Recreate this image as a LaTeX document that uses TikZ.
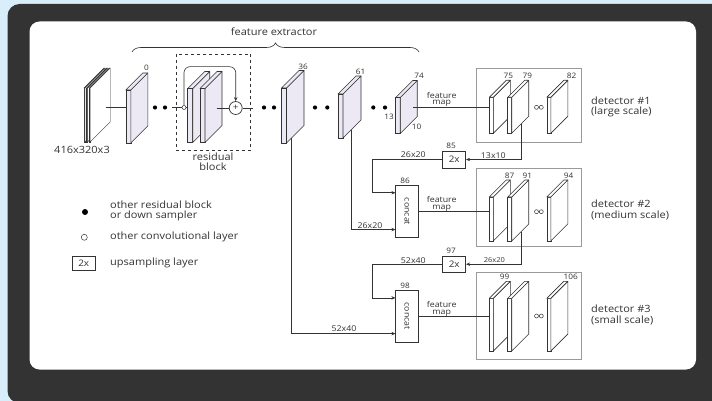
\documentclass[tikz,border=0pt]{standalone}
\usepackage{fontspec}
\setmainfont{Open Sans}[FakeStretch=1.1]
\usetikzlibrary{arrows.meta,decorations.pathreplacing,calc}

\definecolor{pagebg}{HTML}{D9EEFB}
\definecolor{framebg}{HTML}{333333}
\definecolor{slabfill}{HTML}{ECE9F4}
\definecolor{inkgray}{HTML}{333333}
\definecolor{boxgray}{HTML}{9A9A9A}

\tikzset{
  conn/.style={draw=inkgray, line width=0.6pt},
  arr/.style={conn, -{Stealth[length=4pt,width=3.4pt]}},
  front/.style={draw=inkgray, line width=0.6pt, inner sep=0pt, outer sep=0pt},
  face/.style={draw=inkgray, line width=0.6pt, line join=round},
  thinslab/.style={front/.append style={line width=0.4pt}, face/.append style={line width=0.4pt}},
  num/.style={font=\fontsize{7.5}{7.5}\selectfont, text=inkgray, inner sep=0pt},
  dim/.style={font=\fontsize{8}{8}\selectfont, text=inkgray, inner sep=0pt},
  fmap/.style={font=\fontsize{8}{6.8}\selectfont, text=inkgray, align=center, inner sep=0pt},
  txt/.style={font=\fontsize{10}{10.5}\selectfont, text=inkgray, align=left, inner sep=0pt},
  upbox/.style={draw=inkgray, line width=0.7pt, minimum width=23pt, minimum height=17pt,
    inner sep=0pt, font=\fontsize{9}{9}\selectfont, text=inkgray},
  concatbox/.style={draw=inkgray, line width=0.7pt, minimum width=23pt, minimum height=52pt, inner sep=0pt},
  detbox/.style={draw=boxgray, line width=0.9pt, inner sep=0pt},
  dot/.style={circle, fill=black, inner sep=0pt, minimum size=4.2pt},
  odot/.style={circle, draw=inkgray, fill=white, inner sep=0pt, minimum size=4pt, line width=0.5pt},
}

% 3d layer: [fill]{name}{x}{y}{front width}{height}{depth}
\newcommand{\layerslab}[7][white]{%
  \node[front, fill=#1, minimum width=#5pt, minimum height=#6pt] (#2) at (#3,#4) {};
  \filldraw[face, fill=#1] (#2.south east) -- (#2.north east) -- ++(#7,-#7) -- ++(0,#6) -- cycle;
  \filldraw[face, fill=#1] (#2.north west) -- ++(#7,-#7) -- ++(#5,0) -- (#2.north east) -- cycle;
}

\begin{document}
\begin{tikzpicture}[x=1pt,y=-1pt]
\useasboundingbox (0,0) rectangle (712,401);
\fill[pagebg] (0,0) rectangle (712,401);
\fill[framebg, rounded corners=12pt] (7.5,4) rectangle (730,403);
\fill[white, rounded corners=10pt] (29.5,21.5) rectangle (696,369.5);

% feature extractor
\draw[conn, decorate, decoration={brace, amplitude=9pt}] (132,52) -- (419,52);
\node[txt] (fe) at (274,32) {feature extractor};

% input
\begin{scope}[thinslab]
\layerslab{in1}{84.3}{115}{1}{54}{20}
\layerslab{in2}{87}{115}{1}{54}{20}
\layerslab{in3}{89.7}{115}{1}{54}{20}
\end{scope}
\node[txt] (inlbl) at (82,150) {416x320x3};
\coordinate (inout) at (106,107.5);

\layerslab[slabfill]{L0}{128.3}{116.5}{5}{53}{17}
\node[num] (n0) at (146.5,67.7) {0};
\draw[conn] (inout) -- (L0.west |- inout);

\node[dot] (d1) at (155,107.5) {};
\node[dot] (d2) at (165,107.5) {};

% residual block
\node[draw=inkgray, dashed, line width=0.7pt, minimum width=74.7pt, minimum height=96.7pt, inner sep=0pt] (res) at (213.4,102.4) {};
\node[txt, align=center] (reslbl) at (213,162) {residual\\block};
\coordinate (rin) at (172,107.5);
\node[odot] (skip) at (184,107.5) {};
\layerslab[slabfill]{R1}{190.2}{115.5}{5}{54}{17}
\layerslab[slabfill]{R2}{202.5}{115.5}{5}{54}{17}
\node[circle, draw=inkgray, fill=white, line width=0.7pt, minimum size=13pt, inner sep=0pt,
  font=\fontsize{9}{9}\selectfont, text=inkgray] (plus) at (235.7,108) {+};
\coordinate (r2out) at (216.7,108);
\coordinate (skiptop) at (235.7,66.7);
\coordinate (resout) at (253,108);
\draw[conn] (rin) -- (skip);
\draw[conn] (skip) -- (R1.west |- skip);
\draw[conn] (r2out) -- (plus);
\draw[arr, rounded corners=6pt] (skip.north) |- (skiptop) -- (plus.north);
\draw[conn] (plus) -- (resout);

\node[dot] (d3) at (264,107.5) {};
\node[dot] (d4) at (274,107.5) {};

\layerslab[slabfill]{L36}{284}{115.5}{5}{55}{17.5}
\node[num] (n36) at (303,67) {36};
\node[dot] (d5) at (315,107.5) {};
\node[dot] (d6) at (327.3,107.5) {};
\layerslab[slabfill]{L61}{340.5}{116}{5}{44}{18}
\node[num] (n61) at (360.7,72) {61};
\node[dot] (d7) at (373.3,107.5) {};
\node[dot] (d8) at (385,107.5) {};
\layerslab[slabfill]{L74}{398}{115.5}{4.5}{36}{17}
\node[num] (n74) at (419,76) {74};
\node[num] (n13) at (389,116.7) {13};
\node[num] (n10) at (416.7,126.5) {10};

% detector 1
\node[detbox, minimum width=105pt, minimum height=74pt] (D1) at (529,105) {};
\layerslab{S75}{491.3}{115.3}{4}{36}{17}
\layerslab{S79}{509.7}{115.3}{4}{36}{17}
\layerslab{S82}{548.8}{115.3}{4}{36}{17}
\node[num] (n75) at (508.3,75.7) {75};
\node[num] (n79) at (527.3,75.7) {79};
\node[num] (n82) at (571.7,75.7) {82};
\node[odot] (o1a) at (536.5,107.3) {};
\node[odot] (o1b) at (541.3,107.3) {};
\node[txt, anchor=west] (D1t) at (591,107) {detector \#1\\(large scale)};
\coordinate (fm1) at (413,107.5);
\draw[conn] (fm1) -- (S75.west |- fm1);
\node[fmap] (fmt1) at (441.7,99.5) {feature\\map};

% upsampling 85 and concat 86
\node[upbox] (U85) at (454.2,159.5) {2x};
\node[num] (n85) at (451,146) {85};
\coordinate (t79) at ($(S79.south east)+(9.5,-9.5)$);
\draw[arr] (t79) |- (U85.east);
\node[dim] (l1310) at (493.3,155.3) {13x10};
\node[concatbox] (C86) at (407.3,211.5) {};
\node[dim, rotate=-90] (c86t) at (C86.center) {concat};
\node[num] (n86) at (405,181) {86};
\coordinate (j85) at (372.7,159.5);
\coordinate (c86a) at ($(C86.north west)+(0,7.6)$);
\draw[arr] (U85.west) -- (j85) |- (c86a);
\node[dim] (l2620a) at (413.3,155) {26x20};
\coordinate (t61) at ($(L61.south east)+(8,-8)$);
\coordinate (c86b) at ($(C86.south west)+(0,-8.3)$);
\draw[arr] (t61) |- (c86b);
\node[dim] (l2620b) at (370,225.5) {26x20};

% detector 2
\node[detbox, minimum width=105pt, minimum height=78.4pt] (D2) at (529,207.5) {};
\layerslab{S87}{491.3}{219}{4}{44}{17}
\layerslab{S91}{509.7}{219}{4}{44}{17}
\layerslab{S94}{548.8}{219}{4}{44}{17}
\node[num] (n87) at (509.5,175.7) {87};
\node[num] (n91) at (527.3,175.7) {91};
\node[num] (n94) at (568.5,175.7) {94};
\node[odot] (o2a) at (536.5,211.7) {};
\node[odot] (o2b) at (541.3,211.7) {};
\node[txt, anchor=west] (D2t) at (591,210) {detector \#2\\(medium scale)};
\draw[conn] (C86.east) -- (S87.west |- C86.east);
\node[fmap] (fmt2) at (441.7,203.8) {feature\\map};

% upsampling 97 and concat 98
\node[upbox, minimum height=16.3pt] (U97) at (454.2,264.2) {2x};
\node[num] (n97) at (451,251) {97};
\coordinate (t91) at ($(S91.south east)+(9.5,-9.5)$);
\draw[arr] (t91) |- (U97.east);
\node[dim, font=\fontsize{6.8}{6.8}\selectfont] (l2620c) at (494.3,260) {26x20};
\node[concatbox, minimum height=52.7pt] (C98) at (407.3,316.3) {};
\node[dim, rotate=-90] (c98t) at (C98.center) {concat};
\node[num] (n98) at (405,285.7) {98};
\coordinate (j97) at (372.7,264.2);
\coordinate (c98a) at ($(C98.north west)+(0,8.3)$);
\draw[arr] (U97.west) -- (j97) |- (c98a);
\node[dim] (l5240a) at (413.3,260.5) {52x40};
\coordinate (t36) at ($(L36.south east)+(5.2,-5.2)$);
\coordinate (c98b) at ($(C98.south west)+(0,-9.4)$);
\draw[arr] (t36) |- (c98b);
\node[dim] (l5240b) at (344,329) {52x40};

% detector 3
\node[detbox, minimum width=104.3pt, minimum height=86.6pt] (D3) at (528.9,316) {};
\layerslab{S99}{491.3}{324.7}{4}{52.7}{17}
\layerslab{S103}{509.7}{324.7}{4}{52.7}{17}
\layerslab{S106}{548.8}{324.7}{4}{52.7}{17}
\node[num] (n99) at (504.5,276.7) {99};
\node[num] (n106) at (570.7,276.7) {106};
\node[odot] (o3a) at (536.5,316) {};
\node[odot] (o3b) at (541.3,316) {};
\node[txt, anchor=west] (D3t) at (591,315) {detector \#3\\(small scale)};
\draw[conn] (C98.east) -- (S99.west |- C98.east);
\node[fmap] (fmt3) at (441.7,308.7) {feature\\map};

% legend
\node[dot, minimum size=6pt] (lgdot) at (85,212) {};
\node[txt, anchor=west] (lgdott) at (110,211) {other residual block\\or down sampler};
\node[odot, minimum size=6pt] (lgodot) at (84.3,237.3) {};
\node[txt, anchor=west] (lgodott) at (110,237.3) {other convolutional layer};
\node[upbox, minimum height=14pt] (lgup) at (83.7,263) {2x};
\node[txt, anchor=west] (lgupt) at (110,262.7) {upsampling layer};
\end{tikzpicture}
\end{document}
